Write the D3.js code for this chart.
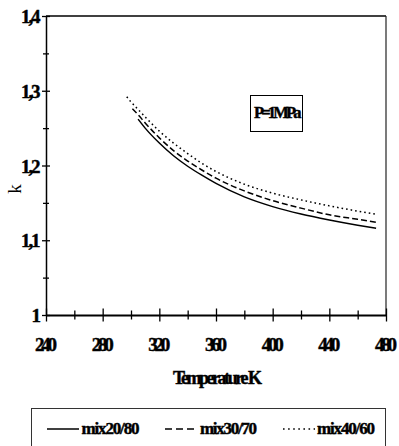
<!DOCTYPE html>
<html>
<head>
<meta charset="utf-8">
<script src="https://cdn.jsdelivr.net/npm/d3@7"></script>
<style>
  html, body { margin: 0; padding: 0; background: #fff; }
  svg { display: block; font-family: "Liberation Serif", "Times New Roman", serif; font-weight: bold; }
  text.heavy { stroke: #000; stroke-width: 0.45px; }
</style>
</head>
<body>
<svg id="chart" width="399" height="446"></svg>
<script>
// Adiabatic exponent k versus temperature at P = 1 MPa
const temps2080 = [305, 310, 320, 330, 340, 350, 360, 380, 400, 420, 440, 460, 473];
const k2080     = [1.262, 1.250, 1.230, 1.213, 1.199, 1.187, 1.176, 1.158, 1.145, 1.135, 1.127, 1.120, 1.116];

const temps3070 = [301, 305, 310, 320, 330, 340, 350, 360, 380, 400, 420, 440, 460, 473];
const k3070     = [1.276, 1.268, 1.257, 1.237, 1.220, 1.206, 1.194, 1.183, 1.166, 1.153, 1.143, 1.134, 1.128, 1.124];

const temps4060 = [297, 300, 305, 310, 320, 330, 340, 350, 360, 380, 400, 420, 440, 460, 473];
const k4060     = [1.292, 1.285, 1.275, 1.265, 1.246, 1.230, 1.216, 1.203, 1.192, 1.175, 1.163, 1.154, 1.146, 1.139, 1.135];

const seriesNames = ["mix20/80", "mix30/70", "mix40/60"];
const xTickLabels = ["240", "280", "320", "360", "400", "440", "480"];
const yTickLabels = ["1", "1,1", "1,2", "1,3", "1,4"];
const xTitle = "Temperature K";
const yTitle = "k";
const noteText = "P=1MPa";

const series = [
  { name: seriesNames[0], t: temps2080, k: k2080, dash: null },
  { name: seriesNames[1], t: temps3070, k: k3070, dash: "6,3" },
  { name: seriesNames[2], t: temps4060, k: k4060, dash: "1.6,3" }
];

const svg = d3.select("#chart");
const plotLeft = 46, plotRight = 386, plotTop = 16, plotBottom = 315;

const x = d3.scaleLinear().domain([240, 480]).range([plotLeft, plotRight]);
const y = d3.scaleLinear().domain([1, 1.4]).range([plotBottom, plotTop]);

// frame: thin top/right, heavier axes
svg.append("line").attr("x1", plotLeft).attr("x2", plotRight).attr("y1", plotTop).attr("y2", plotTop)
  .attr("stroke", "#000").attr("stroke-width", 1.3);
svg.append("line").attr("x1", plotRight).attr("x2", plotRight).attr("y1", plotTop).attr("y2", plotBottom)
  .attr("stroke", "#222").attr("stroke-width", 1.2);

// x axis
const xMajor = d3.range(240, 481, 40);
const xMinor = d3.range(260, 481, 40);
const gx = svg.append("g").attr("transform", `translate(0,${plotBottom})`)
  .call(d3.axisBottom(x).tickValues(xMajor).tickSizeInner(6.5).tickSizeOuter(0).tickFormat(""));
gx.select(".domain").attr("stroke", "#000").attr("stroke-width", 2);
gx.selectAll(".tick line").attr("y1", -6.5).attr("stroke-width", 1.3);
const gxm = svg.append("g").attr("transform", `translate(0,${plotBottom})`)
  .call(d3.axisBottom(x).tickValues(xMinor).tickSizeInner(4.5).tickSizeOuter(0).tickFormat(""));
gxm.select(".domain").remove();
gxm.selectAll(".tick line").attr("y1", -4.5).attr("stroke-width", 1.3);

// y axis
const yMajor = d3.range(0, 5).map(i => 1 + i * 0.1);
const yMinor = d3.range(0, 4).map(i => 1.05 + i * 0.1);
const gy = svg.append("g").attr("transform", `translate(${plotLeft},0)`)
  .call(d3.axisLeft(y).tickValues(yMajor).tickSizeInner(4).tickSizeOuter(0).tickFormat(""));
gy.select(".domain").attr("stroke", "#000").attr("stroke-width", 1.5);
gy.selectAll(".tick line").attr("x1", 4).attr("stroke-width", 1.3);
const gym = svg.append("g").attr("transform", `translate(${plotLeft},0)`)
  .call(d3.axisLeft(y).tickValues(yMinor).tickSizeInner(3).tickSizeOuter(0).tickFormat(""));
gym.select(".domain").remove();
gym.selectAll(".tick line").attr("x1", 3).attr("stroke-width", 1.3);

// tick labels: tightly set bold serif, glyphs packed together
svg.append("g").selectAll("text").data(xMajor).join("text")
  .attr("class", "heavy")
  .attr("x", d => x(d) - 11).attr("y", 351)
  .attr("font-size", 19)
  .attr("textLength", 22).attr("lengthAdjust", "spacing")
  .text((d, i) => xTickLabels[i]);

svg.append("g").selectAll("text").data(yMajor).join("text")
  .attr("class", "heavy")
  .attr("x", (d, i) => yTickLabels[i].length > 1 ? 21 : 31.5)
  .attr("y", d => y(d) + 7)
  .attr("font-size", 19)
  .attr("textLength", (d, i) => yTickLabels[i].length > 1 ? 19.5 : null)
  .attr("lengthAdjust", "spacing")
  .text((d, i) => yTickLabels[i]);

// axis titles
svg.append("text").attr("class", "heavy").attr("x", 173).attr("y", 384)
  .attr("font-size", 18).attr("textLength", 89).attr("lengthAdjust", "spacing")
  .text(xTitle);
svg.append("text").attr("transform", "translate(21,189) rotate(-90)")
  .attr("text-anchor", "middle").attr("font-size", 19).attr("font-weight", "normal")
  .text(yTitle);

// curves
const line = d3.line().x(d => x(d[0])).y(d => y(d[1])).curve(d3.curveMonotoneX);
series.forEach(s => {
  const pts = s.t.map((t, i) => [t, s.k[i]]);
  svg.append("path").datum(pts).attr("d", line)
    .attr("fill", "none").attr("stroke", "#000").attr("stroke-width", 1.5)
    .attr("stroke-dasharray", s.dash);
});

// pressure note
svg.append("rect").attr("x", 250.5).attr("y", 95.5).attr("width", 52).attr("height", 36)
  .attr("fill", "#fff").attr("stroke", "#000").attr("stroke-width", 1);
svg.append("text").attr("class", "heavy").attr("x", 254).attr("y", 118).attr("font-size", 16.5)
  .attr("textLength", 47.5).attr("lengthAdjust", "spacing").text(noteText);

// legend
svg.append("rect").attr("x", 31.5).attr("y", 408.5).attr("width", 354).attr("height", 60)
  .attr("fill", "none").attr("stroke", "#333").attr("stroke-width", 1);
const legendPos = [
  { x0: 47, x1: 79, tx: 81.5, tw: 58, dash: null },
  { x0: 165, x1: 195, tx: 200, tw: 57, dash: "7,4" },
  { x0: 283, x1: 315, tx: 317, tw: 58, dash: "1.6,3.5" }
];
const lg = svg.append("g").selectAll("g").data(series).join("g");
lg.append("line")
  .attr("x1", (d, i) => legendPos[i].x0).attr("x2", (d, i) => legendPos[i].x1)
  .attr("y1", 429).attr("y2", 429)
  .attr("stroke", "#000").attr("stroke-width", 1.5)
  .attr("stroke-dasharray", (d, i) => legendPos[i].dash);
lg.append("text")
  .attr("class", "heavy")
  .attr("x", (d, i) => legendPos[i].tx).attr("y", 434)
  .attr("font-size", 17).attr("textLength", (d, i) => legendPos[i].tw)
  .attr("lengthAdjust", "spacing")
  .text(d => d.name);
</script>
</body>
</html>
